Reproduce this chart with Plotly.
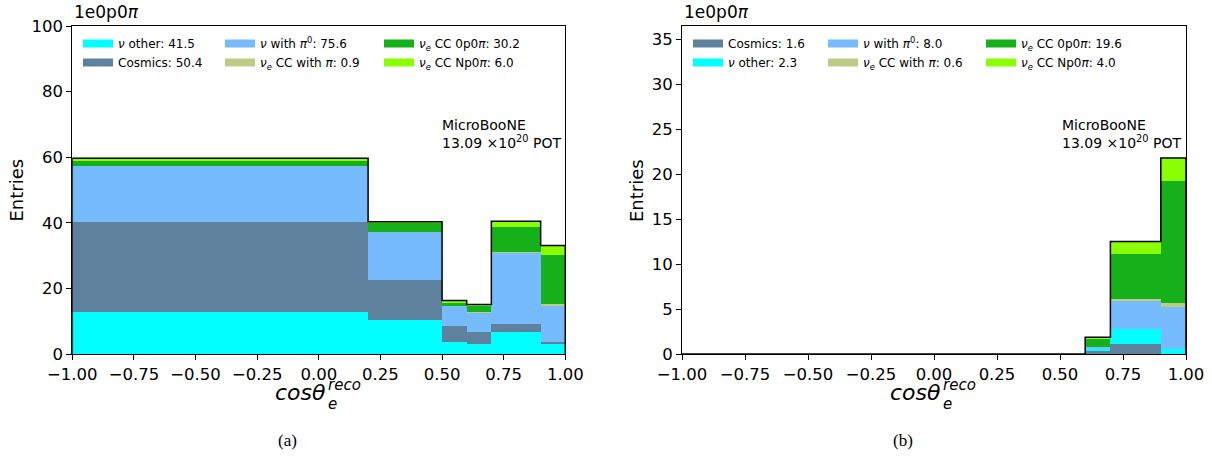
import plotly.graph_objects as go

# Binning in reconstructed cos(theta_e)
bin_edges = [-1.0, 0.2, 0.5, 0.6, 0.7, 0.9, 1.0]

# (a) stacked event counts per bin
nu_other_a = [12.7, 10.3, 3.8, 3.2, 6.6, 3.0]
cosmics_a = [27.4, 12.3, 4.6, 3.4, 2.7, 0.8]
nu_pi0_a = [17.2, 14.7, 6.2, 6.1, 21.5, 10.9]
nue_ccpi_a = [0.0, 0.0, 0.0, 0.1, 0.3, 0.5]
nue_0p0pi_a = [1.8, 2.9, 1.2, 2.0, 7.5, 15.1]
nue_np0pi_a = [0.6, 0.1, 0.5, 0.3, 1.9, 2.8]

# (b) stacked event counts per bin
cosmics_b = [0.0, 0.0, 0.0, 0.37, 1.15, 0.05]
nu_other_b = [0.0, 0.0, 0.0, 0.22, 1.6, 0.56]
nu_pi0_b = [0.0, 0.0, 0.0, 0.22, 3.1, 4.64]
nue_ccpi_b = [0.0, 0.0, 0.0, 0.0, 0.23, 0.4]
nue_0p0pi_b = [0.0, 0.0, 0.0, 0.9, 5.1, 13.6]
nue_np0pi_b = [0.0, 0.0, 0.0, 0.15, 1.34, 2.55]

# Legend labels
labels_a = ["<i>ν</i> other: 41.5", "Cosmics: 50.4", "<i>ν</i> with <i>π</i><sup>0</sup>: 75.6",
            "<i>ν<sub>e</sub></i> CC with <i>π</i>: 0.9", "<i>ν<sub>e</sub></i> CC 0p0<i>π</i>: 30.2",
            "<i>ν<sub>e</sub></i> CC Np0<i>π</i>: 6.0"]
labels_b = ["Cosmics: 1.6", "<i>ν</i> other: 2.3", "<i>ν</i> with <i>π</i><sup>0</sup>: 8.0",
            "<i>ν<sub>e</sub></i> CC with <i>π</i>: 0.6", "<i>ν<sub>e</sub></i> CC 0p0<i>π</i>: 19.6",
            "<i>ν<sub>e</sub></i> CC Np0<i>π</i>: 4.0"]

C_NU_OTHER = "#00ffff"
C_COSMIC = "#5e819d"
C_PI0 = "#75bbfd"
C_CCPI = "#bccc84"
C_0P0PI = "#15b01a"
C_NP0PI = "#89fe05"

series_a = [nu_other_a, cosmics_a, nu_pi0_a, nue_ccpi_a, nue_0p0pi_a, nue_np0pi_a]
colors_a = [C_NU_OTHER, C_COSMIC, C_PI0, C_CCPI, C_0P0PI, C_NP0PI]
series_b = [cosmics_b, nu_other_b, nu_pi0_b, nue_ccpi_b, nue_0p0pi_b, nue_np0pi_b]
colors_b = [C_COSMIC, C_NU_OTHER, C_PI0, C_CCPI, C_0P0PI, C_NP0PI]

W, H = 1212, 462
FONT = "DejaVu Sans"


def px(x):
    return x / W


def py(y):
    return 1 - y / H


centers = [(lo + hi) / 2 for lo, hi in zip(bin_edges[:-1], bin_edges[1:])]
widths = [hi - lo for lo, hi in zip(bin_edges[:-1], bin_edges[1:])]

fig = go.Figure()


def add_panel(series, colors, labels, xa, ya, legends):
    for vals, col in zip(series, colors):
        fig.add_trace(go.Bar(x=centers, y=vals, width=widths, marker_color=col,
                             marker_line_width=0, showlegend=False,
                             xaxis=xa, yaxis=ya, hoverinfo="skip"))
    # total outline as a step line
    totals = [sum(v) for v in zip(*series)]
    sx = [bin_edges[0]] + bin_edges[:-1] + [bin_edges[-1], bin_edges[-1]]
    sy = [0] + totals + [totals[-1], 0]
    fig.add_trace(go.Scatter(x=sx, y=sy, mode="lines", line_shape="hv",
                             line=dict(color="black", width=1.5), showlegend=False,
                             xaxis=xa, yaxis=ya, hoverinfo="skip"))
    # legend entries, two per column
    for i, (lab, col) in enumerate(zip(labels, colors)):
        fig.add_trace(go.Scatter(x=[None], y=[None], mode="lines", name=lab,
                                 line=dict(color=col, width=8),
                                 legend=legends[i // 2], xaxis=xa, yaxis=ya))


add_panel(series_a, colors_a, labels_a, "x", "y", ["legend", "legend2", "legend3"])
add_panel(series_b, colors_b, labels_b, "x2", "y2", ["legend4", "legend5", "legend6"])

axis_common = dict(showline=True, linecolor="black", linewidth=1, mirror=True,
                   ticks="outside", ticklen=5, tickwidth=1, tickcolor="black",
                   showgrid=False, zeroline=False, automargin=False,
                   tickfont=dict(family=FONT, size=16.5, color="black"))

xdom_a = [px(72.3), px(565.3)]
xdom_b = [px(682), px(1186)]
ydom = [py(354), py(26)]

legend_common = dict(bgcolor="rgba(0,0,0,0)", borderwidth=0, itemwidth=30,
                     tracegroupgap=0, traceorder="normal",
                     font=dict(family=FONT, size=12, color="black"),
                     xanchor="left", yanchor="top", orientation="v")

LEG_TOP = 29
fig.update_layout(
    width=W, height=H, margin=dict(l=0, r=0, t=0, b=0, autoexpand=False),
    paper_bgcolor="white", plot_bgcolor="white", barmode="stack",
    font=dict(family=FONT, color="black"),
    xaxis=dict(domain=xdom_a, range=[-1, 1], tick0=-1, dtick=0.25, tickformat=".2f",
               anchor="y", **axis_common),
    yaxis=dict(domain=ydom, range=[0, 100], dtick=20, anchor="x", **axis_common),
    xaxis2=dict(domain=xdom_b, range=[-1, 1], tick0=-1, dtick=0.25, tickformat=".2f",
                anchor="y2", **axis_common),
    yaxis2=dict(domain=ydom, range=[0, 36.5], dtick=5, anchor="x2", **axis_common),
    legend=dict(x=px(78), y=py(LEG_TOP), **legend_common),
    legend2=dict(x=px(220), y=py(LEG_TOP), **legend_common),
    legend3=dict(x=px(379), y=py(LEG_TOP), **legend_common),
    legend4=dict(x=px(688), y=py(LEG_TOP), **legend_common),
    legend5=dict(x=px(823), y=py(LEG_TOP), **legend_common),
    legend6=dict(x=px(981), y=py(LEG_TOP), **legend_common),
)

ann = []


def text(x, y, s, size, xanchor="left", yanchor="middle", angle=0, family=FONT):
    ann.append(dict(x=px(x), y=py(y), xref="paper", yref="paper", text=s,
                    showarrow=False, xanchor=xanchor, yanchor=yanchor, textangle=angle,
                    font=dict(family=family, size=size, color="black")))


for left, right, cap in [(72.3, 565.3, "(a)"), (682, 1186, "(b)")]:
    mid = (left + right) / 2
    text(left, 12.5, "1e0p0<i>π</i>", 17)
    text(mid + 9, 392, "<i>cosθ</i>", 22, xanchor="right")
    text(mid + 7, 385, "<i>reco</i>", 15)
    text(mid + 7, 404, "<i>e</i>", 15)
    text(mid - 31, 440, cap, 17, xanchor="center", family="Liberation Serif")

text(439.5, 125, "MicroBooNE", 14)
text(439.5, 141.7, "13.09 ×10<sup>20</sup> POT", 14)
text(1059.5, 125, "MicroBooNE", 14)
text(1059.5, 141.7, "13.09 ×10<sup>20</sup> POT", 14)
text(16.5, 190, "Entries", 18, xanchor="center", angle=-90)
text(637, 190, "Entries", 18, xanchor="center", angle=-90)

fig.update_layout(annotations=ann)
fig.write_html("out.html")
